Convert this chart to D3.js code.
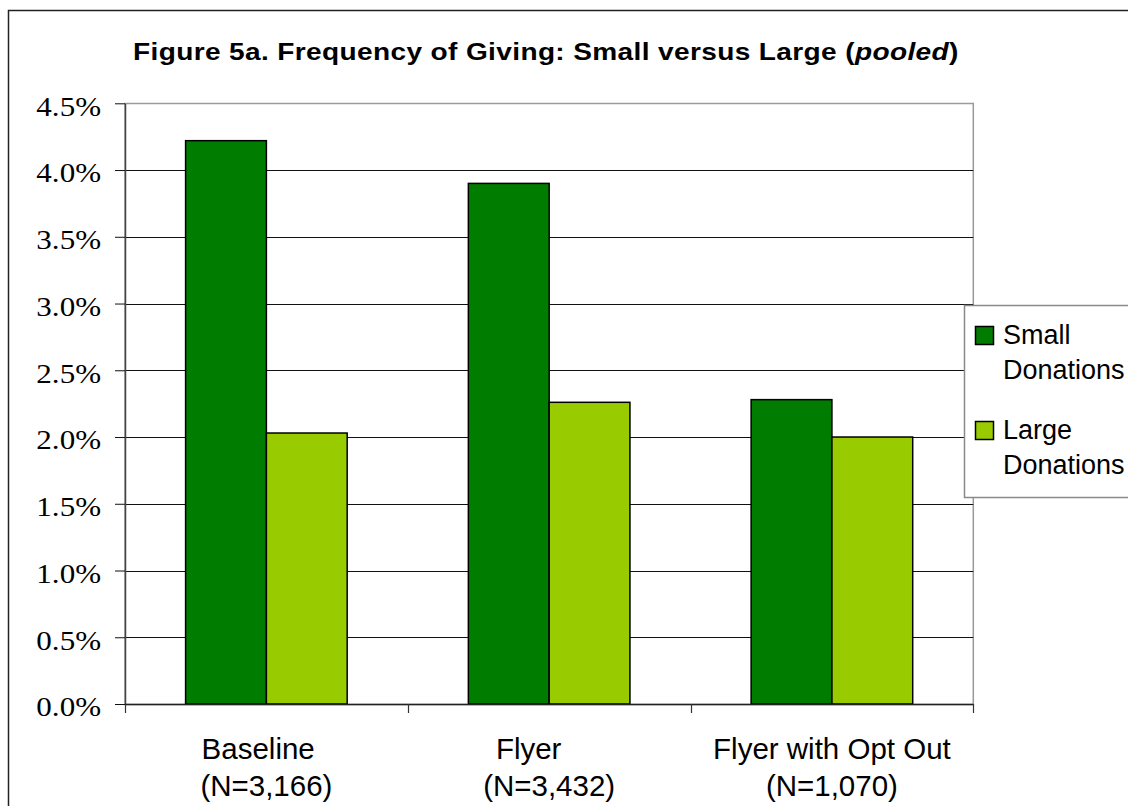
<!DOCTYPE html>
<html>
<head>
<meta charset="utf-8">
<script src="https://cdn.jsdelivr.net/npm/d3@7"></script>
<style>
  body { margin: 0; background: #fff; }
  svg { display: block; }
  text { white-space: pre; }
</style>
</head>
<body>
<svg id="chart" width="1128" height="806"></svg>
<script>
// ---- data ----
const categories = ["Baseline  ", "Flyer     ", "Flyer with Opt Out"];
const sampleSizes = ["(N=3,166)", "(N=3,432)", "(N=1,070)"];
const seriesNames = ["Small Donations", "Large Donations"];
const smallDonations = [0.0422, 0.0390, 0.0228];
const largeDonations = [0.0203, 0.0226, 0.0200];
const yTicks = [0, 0.005, 0.010, 0.015, 0.020, 0.025, 0.030, 0.035, 0.040, 0.045];
const legendLines = [["Small", "Donations"], ["Large", "Donations"]];

// ---- layout & style ----
const plot = { left: 125, right: 973.3, top: 103.3, bottom: 704 };
const colors = ["#007c00", "#99cc00"];
const sans = "'Liberation Sans', Arial, sans-serif";
const serif = "'Liberation Serif', 'Times New Roman', serif";

const svg = d3.select("#chart");

// chart frame
svg.append("rect")
  .attr("x", 8.5).attr("y", 10.5)
  .attr("width", 1200).attr("height", 900)
  .attr("fill", "#fff").attr("stroke", "#222").attr("stroke-width", 1.5);

// scales
const x = d3.scaleBand().domain(categories).range([plot.left, plot.right]).paddingInner(0).paddingOuter(0);
const gapRatio = 1.5;
const barW = x.bandwidth() / (seriesNames.length + gapRatio);
const xInner = d3.scaleBand().domain(seriesNames)
  .range([barW * gapRatio / 2, barW * gapRatio / 2 + barW * seriesNames.length]);
const y = d3.scaleLinear().domain([0, 0.045]).range([plot.bottom, plot.top]);

// plot area border
svg.append("rect")
  .attr("x", plot.left).attr("y", Math.round(plot.top) + 0.5)
  .attr("width", plot.right - plot.left).attr("height", plot.bottom - Math.round(plot.top))
  .attr("fill", "#fff").attr("stroke", "#9a9a9a").attr("stroke-width", 1.5);

// gridlines
svg.append("g").selectAll("line")
  .data(yTicks.filter(t => t > 0 && t < 0.045))
  .join("line")
  .attr("x1", plot.left).attr("x2", plot.right)
  .attr("y1", d => Math.round(y(d)) + 0.5).attr("y2", d => Math.round(y(d)) + 0.5)
  .attr("stroke", "#111").attr("stroke-width", 1);

// bars
const rows = categories.map((c, i) => ({ cat: c, values: [smallDonations[i], largeDonations[i]] }));
const groups = svg.append("g").selectAll("g")
  .data(rows).join("g")
  .attr("transform", d => `translate(${x(d.cat)},0)`);
groups.selectAll("rect")
  .data(d => d.values.map((v, k) => ({ name: seriesNames[k], value: v, k })))
  .join("rect")
  .attr("x", d => xInner(d.name))
  .attr("width", xInner.bandwidth())
  .attr("y", d => y(d.value))
  .attr("height", d => y(0) - y(d.value))
  .attr("fill", d => colors[d.k])
  .attr("stroke", "#000").attr("stroke-width", 1.5);

// y axis
const yAxis = svg.append("g")
  .attr("transform", `translate(${plot.left},0)`)
  .call(d3.axisLeft(y).tickValues(yTicks).tickFormat(d3.format(".1%")).tickSize(10).tickSizeOuter(0));
yAxis.select(".domain").attr("stroke", "#444").attr("stroke-width", 1.5);
yAxis.selectAll(".tick line").attr("stroke", "#111");
const yLabelStretch = 1.15;
yAxis.selectAll(".tick text")
  .attr("x", -24 / yLabelStretch).attr("dy", null).attr("y", 11.8)
  .attr("transform", `scale(${yLabelStretch},1)`)
  .attr("text-anchor", "end")
  .attr("fill", "#000")
  .style("font-family", serif).style("font-size", "27px");

// x axis line and boundary ticks
svg.append("line")
  .attr("x1", plot.left).attr("x2", plot.right)
  .attr("y1", plot.bottom + 0.5).attr("y2", plot.bottom + 0.5)
  .attr("stroke", "#222").attr("stroke-width", 1.5);
const bounds = categories.map(c => x(c)).concat([x.range()[1]]);
svg.append("g").selectAll("line")
  .data(bounds).join("line")
  .attr("x1", d => Math.round(d) + 0.5).attr("x2", d => Math.round(d) + 0.5)
  .attr("y1", plot.bottom).attr("y2", plot.bottom + 9)
  .attr("stroke", "#333").attr("stroke-width", 1.2);

// category labels
const xLabels = svg.append("g")
  .style("font-family", sans).style("font-size", "29.5px").attr("fill", "#000");
categories.forEach((c, i) => {
  const cx = x(c) + x.bandwidth() / 2;
  xLabels.append("text").attr("x", cx).attr("y", 759).attr("text-anchor", "middle").text(c);
  xLabels.append("text").attr("x", cx).attr("y", 796).attr("text-anchor", "middle").text(sampleSizes[i]);
});

// title (drawn slightly widened horizontally)
const titleStretch = 1.22;
const title = svg.append("text")
  .attr("transform", `translate(133,60) scale(${titleStretch},1)`)
  .style("font-family", sans).style("font-size", "23px").style("font-weight", "bold")
  .style("letter-spacing", "0.3px")
  .attr("fill", "#000");
title.append("tspan").text("Figure 5a. Frequency of Giving: Small versus Large (");
title.append("tspan").style("font-style", "italic").text("pooled");
title.append("tspan").text(")");

// legend
const legend = svg.append("g");
legend.append("rect")
  .attr("x", 964.5).attr("y", 305.5).attr("width", 220).attr("height", 192)
  .attr("fill", "#fff").attr("stroke", "#8a8a8a").attr("stroke-width", 1.5);
seriesNames.forEach((name, k) => {
  const top = 326 + k * 95;
  legend.append("rect")
    .attr("x", 975.5).attr("y", top + 0.5).attr("width", 18).attr("height", 18)
    .attr("fill", colors[k]).attr("stroke", "#000").attr("stroke-width", 1.5);
  legendLines[k].forEach((line, j) => {
    legend.append("text")
      .attr("x", 1003).attr("y", top + 18.3 + j * 35)
      .style("font-family", sans).style("font-size", "27px")
      .attr("fill", "#000").text(line);
  });
});
</script>
</body>
</html>
